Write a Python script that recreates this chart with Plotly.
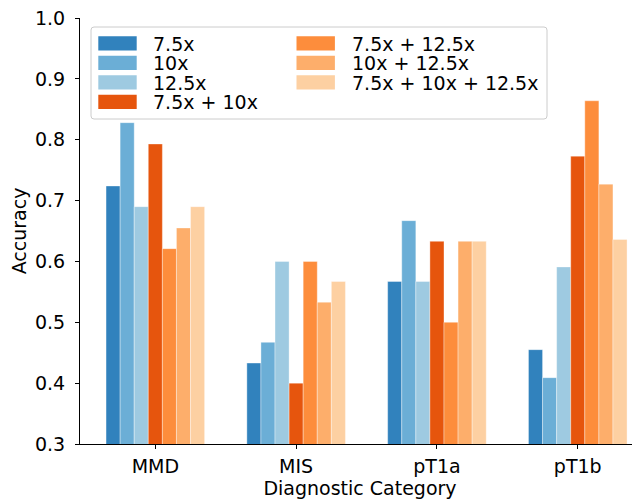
import plotly.graph_objects as go

categories = ["MMD", "MIS", "pT1a", "pT1b"]
series_names = ["7.5x", "10x", "12.5x", "7.5x + 10x", "7.5x + 12.5x", "10x + 12.5x", "7.5x + 10x + 12.5x"]
acc_7_5 = [0.724, 0.433, 0.567, 0.455]
acc_10 = [0.828, 0.467, 0.667, 0.409]
acc_12_5 = [0.690, 0.600, 0.567, 0.591]
acc_7_5_10 = [0.793, 0.400, 0.633, 0.773]
acc_7_5_12_5 = [0.621, 0.600, 0.500, 0.864]
acc_10_12_5 = [0.655, 0.533, 0.633, 0.727]
acc_all = [0.690, 0.567, 0.633, 0.636]
series_values = [acc_7_5, acc_10, acc_12_5, acc_7_5_10, acc_7_5_12_5, acc_10_12_5, acc_all]
colors = ["#3182bd", "#6baed6", "#9ecae1", "#e6550d", "#fd8d3c", "#fdae6b", "#fdd0a2"]
y_ticks = [0.3, 0.4, 0.5, 0.6, 0.7, 0.8, 0.9, 1.0]

FONT = "DejaVu Sans"
FS = 19
OFF = 8  # page body margin of the html page
W, H = 632, 491
ML, MR, MT, MB = 72, 0, 10, 55
PW, PH = W - ML - MR, H - MT - MB


def px(xp):
    return (xp - OFF - ML) / PW


def py(yp):
    return (H - MB - (yp - OFF)) / PH


fig = go.Figure()
for name, vals, col in zip(series_names, series_values, colors):
    fig.add_trace(go.Bar(
        x=list(range(len(categories))), y=vals, name=name,
        marker=dict(color=col, line=dict(color="rgba(255,255,255,0.6)", width=0.6)),
        showlegend=False,
    ))

# legend (two columns, matplotlib style)
shapes = []
annotations = []
lx0, lx1, ly0, ly1, r = 91, 547, 27, 119, 3
path = (f"M {px(lx0 + r)},{py(ly0)} L {px(lx1 - r)},{py(ly0)} Q {px(lx1)},{py(ly0)} {px(lx1)},{py(ly0 + r)} "
        f"L {px(lx1)},{py(ly1 - r)} Q {px(lx1)},{py(ly1)} {px(lx1 - r)},{py(ly1)} "
        f"L {px(lx0 + r)},{py(ly1)} Q {px(lx0)},{py(ly1)} {px(lx0)},{py(ly1 - r)} "
        f"L {px(lx0)},{py(ly0 + r)} Q {px(lx0)},{py(ly0)} {px(lx0 + r)},{py(ly0)} Z")
shapes.append(dict(type="path", xref="paper", yref="paper", path=path,
                   fillcolor="rgba(255,255,255,0.8)", line=dict(color="#cccccc", width=1), layer="above"))
col_sw_x = [98.3, 296.5]
col_tx_x = [151.7, 350.7]
row_y0, row_dy = 43.3, 19.5
for i, (name, col) in enumerate(zip(series_names, colors)):
    c = 0 if i < 4 else 1
    rr = i if i < 4 else i - 4
    cy = row_y0 + rr * row_dy
    shapes.append(dict(type="rect", xref="paper", yref="paper",
                       x0=px(col_sw_x[c]), x1=px(col_sw_x[c] + 38.4),
                       y0=py(cy - 7.1), y1=py(cy + 7.1),
                       fillcolor=col, line=dict(width=0), layer="above"))
    annotations.append(dict(xref="paper", yref="paper", x=px(col_tx_x[c]), y=py(cy + 0.5),
                            xanchor="left", yanchor="middle", text=name, showarrow=False,
                            height=18, borderpad=0, valign="middle",
                            font=dict(family=FONT, size=FS, color="#000000")))

fig.update_layout(
    width=W, height=H,
    margin=dict(l=ML, r=MR, t=MT, b=MB),
    plot_bgcolor="white", paper_bgcolor="white",
    barmode="group", bargap=0.3, bargroupgap=0.0,
    font=dict(family=FONT, size=FS, color="#000000"),
    showlegend=False,
    shapes=shapes, annotations=annotations,
    hovermode=False,
)
fig.update_xaxes(
    tickmode="array", tickvals=list(range(len(categories))), ticktext=categories,
    range=[-0.535, 3.442], showline=True, linecolor="#000000", linewidth=1,
    ticks="outside", ticklen=4, tickcolor="#000000", showgrid=False, zeroline=False,
    ticklabelstandoff=1,
    tickfont=dict(family=FONT, size=FS, color="#000000"),
    title=dict(text="Diagnostic Category", font=dict(family=FONT, size=FS, color="#000000"), standoff=2),
)
fig.update_yaxes(
    range=[0.3, 1.0], tickmode="array",
    tickvals=y_ticks, ticktext=[f"{v:.1f}" for v in y_ticks],
    showline=True, linecolor="#000000", linewidth=1,
    ticks="outside", ticklen=4, tickcolor="#000000", showgrid=False, zeroline=False,
    ticklabelstandoff=6, ticklabeloverflow="allow",
    tickfont=dict(family=FONT, size=FS, color="#000000"),
    title=dict(text="Accuracy", font=dict(family=FONT, size=FS, color="#000000"), standoff=3),
)

fig.write_html("out.html")
